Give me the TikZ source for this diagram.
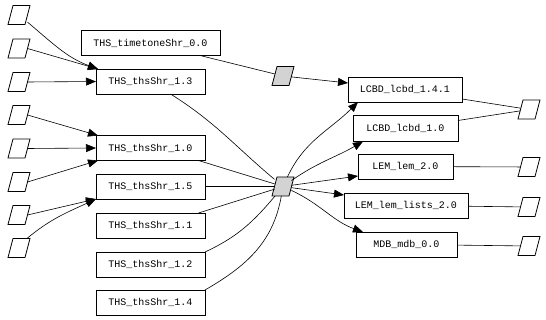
\documentclass[tikz,border=0pt]{standalone}
\usepackage{fontspec}
\setmonofont{Liberation Mono}
\usetikzlibrary{arrows.meta}
\definecolor{parafill}{RGB}{211,211,211}
\tikzset{
  box/.style={draw, line width=0.8pt, rectangle, minimum height=25pt, inner sep=0pt, outer sep=0pt, font=\ttfamily\fontsize{10pt}{12pt}\selectfont},
  parabase/.style={rectangle, minimum width=17pt, minimum height=19pt, inner sep=0pt, outer sep=0pt},
  pics/para/.style args={#1/#2}{code={
    \node[parabase] (#1) at (0,0) {};
    \draw[line width=0.8pt, fill=#2] (-11pt,-9.5pt) -- (6pt,-9.5pt) -- (11pt,9.5pt) -- (-6pt,9.5pt) -- cycle;
  }},
  edge/.style={line width=0.6pt},
  arr/.style={edge, -{Triangle[length=10pt,width=8pt]}},
}
\begin{document}
\begin{tikzpicture}[x=1pt,y=-1pt]
\useasboundingbox (0,0) rectangle (546,320);
% left boxes
\node[box, minimum width=139pt] (tt) at (150.5,43) {THS\_timetoneShr\_0.0};
\node[box, minimum width=109pt] (b13) at (150.5,81.5) {THS\_thsShr\_1.3};
\node[box, minimum width=109pt] (b10) at (150.5,148) {THS\_thsShr\_1.0};
\node[box, minimum width=109pt] (b15) at (150.5,186.5) {THS\_thsShr\_1.5};
\node[box, minimum width=109pt] (b11) at (150.5,225.5) {THS\_thsShr\_1.1};
\node[box, minimum width=109pt] (b12) at (150.5,264.5) {THS\_thsShr\_1.2};
\node[box, minimum width=109pt] (b14) at (150.5,302.5) {THS\_thsShr\_1.4};
% right boxes
\node[box, minimum width=114pt] (l141) at (405,89.5) {LCBD\_lcbd\_1.4.1};
\node[box, minimum width=105pt, minimum height=26pt] (l10) at (405.5,128.5) {LCBD\_lcbd\_1.0};
\node[box, minimum width=95pt] (lem) at (405.5,166.5) {LEM\_lem\_2.0};
\node[box, minimum width=124pt] (lists) at (406,205.5) {LEM\_lem\_lists\_2.0};
\node[box, minimum width=101pt] (mdb) at (406.5,244.5) {MDB\_mdb\_0.0};
% left parallelograms
\pic at (19,15) {para={p1/white}};
\pic at (19,48.5) {para={p2/white}};
\pic at (19,82) {para={p3/white}};
\pic at (19,115) {para={p4/white}};
\pic at (19,148.5) {para={p5/white}};
\pic at (19,182) {para={p6/white}};
\pic at (19,215) {para={p7/white}};
\pic at (19,248) {para={p8/white}};
% gray
\pic at (283,76) {para={g1/parafill}};
\pic at (283,186.5) {para={g2/parafill}};
% right parallelograms
\pic at (529,109.5) {para={r1/white}};
\pic at (529,167) {para={r2/white}};
\pic at (529,207) {para={r3/white}};
\pic at (529,246) {para={r4/white}};
% edges into left boxes
\draw[arr] (p1.-40) to[out=-40,in=160] ([xshift=2pt]b13.north west);
\draw[arr] (p2.east) -- ([xshift=2pt]b13.north west);
\draw[arr] (p3.east) -- (b13.west);
\draw[arr] (p4.east) -- ([xshift=2pt]b10.north west);
\draw[arr] (p5.east) -- (b10.west);
\draw[arr] (p6.east) -- ([xshift=2pt]b10.south west);
\draw[arr] (p7.east) -- (b15.south west);
\draw[arr] (p8.50) to[out=40,in=205] (b15.south west);
% top gray
\draw[edge] ([xshift=-20pt]tt.south east) -- (g1);
\draw[arr] (g1) -- ([yshift=-6pt]l141.north west);
% into central gray
\draw[edge] ([xshift=20pt]b13.south) to[out=-32,in=140] (g2);
\draw[edge] ([xshift=48pt]b10.south) -- (g2);
\draw[edge] (b15.east) -- (g2);
\draw[edge] ([xshift=48pt]b11.north) -- (g2);
\draw[edge] (b12.north east) to[out=25,in=-130] (g2);
\draw[edge] (b14.north east) to[out=30,in=-100] (g2);
% out of central gray
\draw[arr] (g2) to[out=65,in=-135] ([xshift=10pt]l141.south west);
\draw[arr] (g2) to[out=35,in=-150] ([xshift=10pt]l10.south west);
\draw[arr] (g2) -- ([yshift=3pt]lem.south west);
\draw[arr] (g2) -- ([yshift=-2pt]lists.north west);
\draw[arr] (g2) to[out=-25,in=160] ([xshift=7pt]mdb.north west);
% to right parallelograms
\draw[edge] ([yshift=3pt]l141.south east) -- (r1);
\draw[edge] ([yshift=-5pt]l10.north east) -- (r1);
\draw[edge] (lem) -- (r2);
\draw[edge] (lists) -- (r3);
\draw[edge] (mdb) -- (r4);
\end{tikzpicture}
\end{document}
